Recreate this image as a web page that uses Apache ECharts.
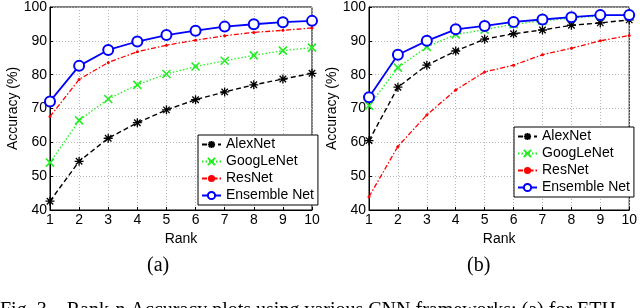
<!DOCTYPE html>
<html><head><meta charset="utf-8">
<script src="https://cdn.jsdelivr.net/npm/echarts@6/dist/echarts.min.js"></script>
<style>html,body{margin:0;padding:0;background:#fff}#c{width:640px;height:308px}</style>
</head><body><div id="c"></div>
<script>
const ranks = ['1','2','3','4','5','6','7','8','9','10'];
const seriesNames = ['AlexNet','GoogLeNet','ResNet','Ensemble Net'];
// panel (a)
const alexA = [42.6, 54.4, 61.2, 65.8, 69.6, 72.6, 74.9, 77.0, 78.7, 80.4];
const googA = [54.0, 66.5, 72.8, 77.0, 80.2, 82.4, 84.1, 85.7, 87.1, 88.0];
const resA  = [67.6, 78.6, 83.6, 86.8, 88.7, 90.2, 91.5, 92.5, 93.1, 93.8];
const ensA  = [72.1, 82.6, 87.3, 89.8, 91.7, 93.0, 94.2, 94.9, 95.5, 95.9];
// panel (b)
const alexB = [60.5, 76.3, 82.8, 87.0, 90.5, 92.1, 93.2, 94.6, 95.3, 96.2];
const googB = [70.8, 82.1, 88.2, 91.9, 93.3, 94.9, 95.9, 96.7, 97.4, 97.8];
const resB  = [43.9, 58.8, 68.1, 75.5, 80.8, 82.8, 85.9, 87.8, 90.0, 91.6];
const ensB  = [73.3, 85.9, 90.0, 93.4, 94.4, 95.6, 96.3, 97.0, 97.6, 97.6];
const yMin = 40, yMax = 100, yStep = 10;
const subCaptions = ['(a)', '(b)'];
const figCaption = 'Fig. 3.   Rank-n Accuracy plots using various CNN frameworks: (a) for ETH';

const chart = echarts.init(document.getElementById('c'), null, {renderer:'canvas'});
const FONT = 'Liberation Sans';
const styles = [
  {color:'#000000', line:{type:[5,3], width:1.4}, symbol:'path://M0,-5L0,5M-5,0L5,0M-3.6,-3.6L3.6,3.6M-3.6,3.6L3.6,-3.6', size:9, border:1.3},
  {color:'#22ee22', line:{type:[1.5,2], width:1.3}, symbol:'path://M-4,-4L4,4M-4,4L4,-4', size:8, border:1.6},
  {color:'#ff0000', line:{type:[5,2,1.5,2], width:1.3}, symbol:'circle', size:3, border:0},
  {color:'#0000ff', line:{type:'solid', width:1.8}, symbol:'emptyCircle', size:10, border:1.6}
];
function mkSeries(data, idx, gi){
  const s = styles[idx];
  const itemStyle = idx===3 ? {color:s.color, borderWidth:s.border} : {color:s.color, borderColor:s.color, borderWidth:s.border};
  return {
    name: seriesNames[idx], type:'line', xAxisIndex:gi, yAxisIndex:gi, data:data,
    symbol:s.symbol, symbolSize:s.size, showAllSymbol:true, animation:false,
    lineStyle:{color:s.color, type:s.line.type, width:s.line.width},
    itemStyle:itemStyle,
    z: 2 + idx
  };
}
function xAx(gi){
  return {type:'category', gridIndex:gi, data:ranks, boundaryGap:false,
    name:'Rank', nameLocation:'middle', nameGap:20,
    nameTextStyle:{fontFamily:FONT, fontSize:14, color:'#000'},
    axisLine:{lineStyle:{color:'#000', width:1}},
    axisTick:{inside:true, length:3, lineStyle:{color:'#000'}},
    axisLabel:{fontFamily:FONT, fontSize:14, color:'#000', margin:3},
    splitLine:{show:true, lineStyle:{color:'#b8b8b8', type:[1,2], width:1}}};
}
function yAx(gi){
  return {type:'value', gridIndex:gi, min:yMin, max:yMax, interval:yStep,
    name:'Accuracy (%)', nameLocation:'middle', nameGap:29,
    nameTextStyle:{fontFamily:FONT, fontSize:14, color:'#000'},
    axisLine:{show:true, lineStyle:{color:'#000', width:1}},
    axisTick:{show:true, inside:true, length:3, lineStyle:{color:'#000'}},
    axisLabel:{fontFamily:FONT, fontSize:14, color:'#000', margin:3},
    splitLine:{show:true, lineStyle:{color:'#b8b8b8', type:[1,2], width:1}}};
}
function legend(left, top){
  return {orient:'vertical', left:left, top:top, data:seriesNames,
    backgroundColor:'#fff', borderColor:'#000', borderWidth:1,
    padding:[2,4,2,3], itemGap:2, itemWidth:19, itemHeight:9, itemTextGap:3,
    textStyle:{fontFamily:FONT, fontSize:14, color:'#000', lineHeight:15}, selectedMode:false};
}
const option = {
  animation:false,
  grid:[
    {left:50, right:328, top:6, bottom:98, show:true, borderColor:'#000', borderWidth:1},
    {left:369, right:10, top:6, bottom:98, show:true, borderColor:'#000', borderWidth:1}
  ],
  xAxis:[xAx(0), xAx(1)],
  yAxis:[yAx(0), yAx(1)],
  legend:[legend(198, 135), legend(514, 127)],
  series:[
    mkSeries(alexA,0,0), mkSeries(googA,1,0), mkSeries(resA,2,0), mkSeries(ensA,3,0),
    mkSeries(alexB,0,1), mkSeries(googB,1,1), mkSeries(resB,2,1), mkSeries(ensB,3,1)
  ],
  graphic:[
    {type:'text', left:147, top:256, style:{text:subCaptions[0], font:'20px "Liberation Serif"', fill:'#000'}},
    {type:'text', left:467, top:256, style:{text:subCaptions[1], font:'20px "Liberation Serif"', fill:'#000'}},
    {type:'text', left:0, top:301, style:{text:figCaption, font:'20px "Liberation Serif"', fill:'#000'}}
  ]
};
chart.setOption(option);
</script></body></html>
